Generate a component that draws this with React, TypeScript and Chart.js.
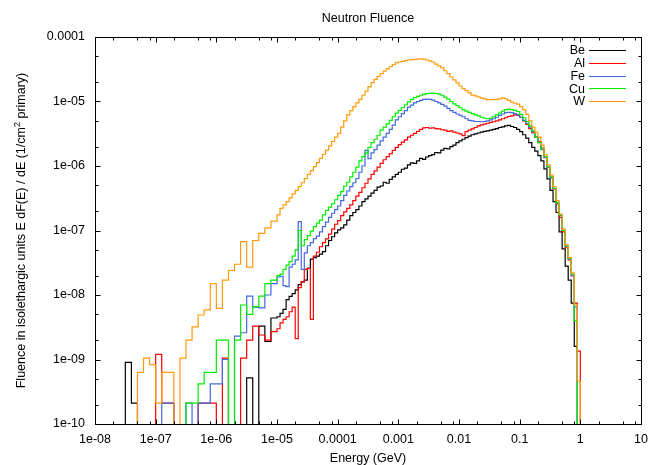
import React, { useEffect, useRef } from "react";
import { Chart, registerables } from "chart.js";

Chart.register(...registerables);

// ---------- data ----------
const SERIES_NAMES = ["Be", "Al", "Fe", "Cu", "W"];
const SERIES_COLORS = ["#000000", "#ff0000", "#4169e1", "#00ee00", "#ff9a0a"];

const TITLE = "Neutron Fluence";
const X_TITLE = "Energy (GeV)";
const Y_TITLE_PRE = "Fluence in isolethargic units E dF(E) / dE (1/cm";
const Y_TITLE_SUP = "2";
const Y_TITLE_POST = " primary)";

const X_TICKS = [1e-8, 1e-7, 1e-6, 1e-5, 1e-4, 1e-3, 1e-2, 1e-1, 1, 10];
const X_TICK_LABELS = ["1e-08", "1e-07", "1e-06", "1e-05", "0.0001", "0.001", "0.01", "0.1", "1", "10"];
const Y_TICKS = [1e-10, 1e-9, 1e-8, 1e-7, 1e-6, 1e-5, 1e-4];
const Y_TICK_LABELS = ["1e-10", "1e-09", "1e-08", "1e-07", "1e-06", "1e-05", "0.0001"];
const X_MINOR = [2, 5, 8];
const Y_MINOR = [2, 5];

// Energy bins (GeV): 10 per decade from 1e-8 to 1e-5, 20 per decade from 1e-5 to 1
const LOW_DECADES = [-8, -5];
const LOW_PER_DECADE = 10;
const HIGH_DECADES = [-5, 0];
const HIGH_PER_DECADE = 20;

// values per bin, 1e-8 .. 1e-5 (30 bins)
const BE_LOW = [0, 0, 0, 0, 0, 9e-10, 2.1e-10, 0, 0, 0, 0, 0, 0, 0, 0, 0, 0, 0, 0, 0, 0, 0, 0, 0, 0, 5.2e-10, 0, 3.3e-9, 1.9e-9, 4.4e-9];
const AL_LOW = [0, 0, 0, 0, 0, 0, 0, 0, 0, 0, 1.2e-9, 2.1e-10, 2.1e-10, 0, 0, 0, 0, 2.1e-10, 2.1e-10, 2.1e-10, 0, 1.05e-9, 0, 0, 1.05e-9, 2.0e-9, 3.3e-9, 2.4e-9, 2.0e-9, 2.7e-9];
const FE_LOW = [0, 0, 0, 0, 0, 0, 0, 0, 0, 0, 0, 2.1e-10, 2.1e-10, 0, 0, 2.1e-10, 0, 2.1e-10, 2.1e-10, 4.2e-10, 4.2e-10, 1.0e-9, 0, 2.3e-9, 2.6e-9, 9.6e-9, 6.5e-9, 6.3e-9, 1.0e-8, 1.5e-8];
const CU_LOW = [0, 0, 0, 0, 0, 0, 0, 0, 0, 0, 0, 0, 0, 0, 0, 2.1e-10, 2.1e-10, 4.2e-10, 6.3e-10, 6.3e-10, 2.0e-9, 2.0e-9, 0, 2.0e-9, 7.0e-9, 5.0e-9, 6.6e-9, 9.6e-9, 1.5e-8, 1.7e-8];
const W_LOW = [0, 0, 0, 0, 0, 0, 0, 6.3e-10, 1.05e-9, 8.3e-10, 2.1e-10, 6.3e-10, 6.3e-10, 0, 1.05e-9, 2.0e-9, 3.2e-9, 4.9e-9, 5.9e-9, 1.5e-8, 6.2e-9, 1.7e-8, 2.4e-8, 3.0e-8, 6.7e-8, 2.7e-8, 7.0e-8, 9.0e-8, 1.1e-7, 1.4e-7];

// values per bin, 1e-5 .. 1 (100 bins)
const BE_HIGH = [
  4.6e-9, 5.2e-9, 6.0e-9, 8.5e-9, 9.5e-9, 1.05e-8, 1.2e-8, 1.45e-8, 1.6e-8, 1.7e-8,
  2.6e-8, 3.6e-8, 3.8e-8, 4.0e-8, 4.3e-8, 4.7e-8, 5.8e-8, 7.0e-8, 8.0e-8, 9.2e-8,
  1.02e-7, 1.1e-7, 1.22e-7, 1.45e-7, 1.7e-7, 1.9e-7, 2.1e-7, 2.4e-7, 2.8e-7, 3.1e-7,
  3.4e-7, 3.8e-7, 4.2e-7, 4.7e-7, 4.9e-7, 5.6e-7, 5.4e-7, 6.2e-7, 6.8e-7, 7.4e-7,
  8.0e-7, 8.9e-7, 9.3e-7, 1.04e-6, 1.12e-6, 1.1e-6, 1.2e-6, 1.31e-6, 1.27e-6, 1.38e-6,
  1.45e-6, 1.5e-6, 1.62e-6, 1.6e-6, 1.76e-6, 1.88e-6, 1.84e-6, 2.0e-6, 2.1e-6, 2.3e-6,
  2.45e-6, 2.6e-6, 2.75e-6, 2.9e-6, 3.05e-6, 3.15e-6, 3.25e-6, 3.35e-6, 3.45e-6, 3.5e-6,
  3.6e-6, 3.7e-6, 3.8e-6, 3.95e-6, 4.05e-6, 4.2e-6, 4.25e-6, 4.1e-6, 3.95e-6, 3.7e-6,
  3.4e-6, 3.05e-6, 2.7e-6, 2.3e-6, 1.95e-6, 1.7e-6, 1.45e-6, 1.2e-6, 9.0e-7, 6.3e-7,
  4.2e-7, 2.8e-7, 1.9e-7, 9.5e-8, 5.2e-8, 2.8e-8, 1.7e-8, 7.5e-9, 1.6e-9, 0,
];
const AL_HIGH = [
  3.0e-9, 3.7e-9, 4.2e-9, 4.6e-9, 5.5e-9, 6.5e-9, 2.1e-9, 1.3e-8, 1.6e-8, 2.5e-8,
  2.6e-8, 4.2e-9, 4.0e-8, 4.6e-8, 5.6e-8, 6.5e-8, 7.4e-8, 8.8e-8, 1.05e-7, 1.25e-7,
  1.42e-7, 1.7e-7, 1.95e-7, 2.2e-7, 2.5e-7, 2.9e-7, 3.4e-7, 3.9e-7, 4.6e-7, 5.4e-7,
  6.3e-7, 7.4e-7, 8.4e-7, 9.6e-7, 1.1e-6, 1.25e-6, 1.4e-6, 1.55e-6, 1.75e-6, 1.95e-6,
  2.15e-6, 2.35e-6, 2.55e-6, 2.8e-6, 3.0e-6, 3.2e-6, 3.45e-6, 3.7e-6, 3.9e-6, 3.95e-6,
  3.85e-6, 3.9e-6, 3.8e-6, 3.75e-6, 3.65e-6, 3.6e-6, 3.45e-6, 3.5e-6, 3.35e-6, 3.25e-6,
  3.15e-6, 2.95e-6, 3.4e-6, 3.6e-6, 3.75e-6, 3.95e-6, 4.2e-6, 4.35e-6, 4.45e-6, 4.6e-6,
  4.75e-6, 4.85e-6, 5.0e-6, 5.2e-6, 5.4e-6, 5.6e-6, 5.85e-6, 6.0e-6, 6.2e-6, 6.1e-6,
  5.7e-6, 5.0e-6, 4.4e-6, 3.8e-6, 3.3e-6, 2.8e-6, 2.4e-6, 1.9e-6, 1.4e-6, 9.8e-7,
  6.7e-7, 4.4e-7, 2.6e-7, 1.6e-7, 9.5e-8, 5.4e-8, 3.5e-8, 2.0e-8, 7.5e-9, 1.35e-9,
];
const FE_HIGH = [
  1.9e-8, 1.95e-8, 1.4e-8, 1.35e-8, 2.7e-8, 3.0e-8, 3.5e-8, 1.37e-7, 2.5e-8, 4.5e-8,
  5.8e-8, 6.5e-8, 7.5e-8, 8.2e-8, 9.5e-8, 1.15e-7, 1.35e-7, 1.6e-7, 1.85e-7, 2.1e-7,
  2.4e-7, 2.9e-7, 3.5e-7, 4.1e-7, 4.8e-7, 5.5e-7, 6.4e-7, 8.0e-7, 1.0e-6, 1.75e-6,
  1.3e-6, 1.6e-6, 1.8e-6, 2.1e-6, 2.45e-6, 2.8e-6, 3.2e-6, 3.7e-6, 4.3e-6, 5.2e-6,
  5.8e-6, 6.5e-6, 7.2e-6, 8.2e-6, 8.8e-6, 9.5e-6, 1.0e-5, 1.04e-5, 1.08e-5, 1.09e-5,
  1.08e-5, 1.05e-5, 1.0e-5, 9.5e-6, 9.0e-6, 8.5e-6, 7.8e-6, 7.2e-6, 6.8e-6, 6.4e-6,
  6.1e-6, 5.8e-6, 5.4e-6, 5.1e-6, 5.0e-6, 4.9e-6, 4.9e-6, 4.85e-6, 4.9e-6, 5.0e-6,
  5.2e-6, 5.4e-6, 5.7e-6, 6.1e-6, 6.4e-6, 6.7e-6, 6.8e-6, 6.7e-6, 6.5e-6, 6.2e-6,
  5.7e-6, 5.1e-6, 4.6e-6, 4.0e-6, 3.4e-6, 2.8e-6, 2.3e-6, 1.8e-6, 1.35e-6, 9.5e-7,
  6.5e-7, 4.4e-7, 2.6e-7, 1.7e-7, 1.0e-7, 5.7e-8, 3.6e-8, 2.0e-8, 6.5e-9, 0,
];
const CU_HIGH = [
  2.0e-8, 2.1e-8, 2.5e-8, 2.9e-8, 3.3e-8, 4.0e-8, 5.0e-8, 1.0e-7, 5.8e-8, 7.2e-8,
  8.3e-8, 9.8e-8, 1.15e-7, 1.3e-7, 1.45e-7, 1.75e-7, 2.05e-7, 2.3e-7, 2.6e-7, 3.0e-7,
  3.5e-7, 4.0e-7, 4.9e-7, 5.6e-7, 6.8e-7, 8.0e-7, 9.6e-7, 1.2e-6, 1.4e-6, 1.6e-6,
  1.95e-6, 2.3e-6, 2.6e-6, 3.0e-6, 3.6e-6, 4.0e-6, 4.5e-6, 5.1e-6, 5.8e-6, 6.6e-6,
  7.3e-6, 8.0e-6, 8.9e-6, 9.9e-6, 1.08e-5, 1.15e-5, 1.2e-5, 1.25e-5, 1.29e-5, 1.32e-5,
  1.34e-5, 1.35e-5, 1.33e-5, 1.3e-5, 1.25e-5, 1.17e-5, 1.09e-5, 1.0e-5, 9.2e-6, 8.6e-6,
  8.0e-6, 7.5e-6, 7.1e-6, 6.8e-6, 6.5e-6, 6.2e-6, 6.0e-6, 5.7e-6, 5.5e-6, 5.4e-6,
  5.5e-6, 5.8e-6, 6.2e-6, 6.6e-6, 7.1e-6, 7.5e-6, 7.6e-6, 7.5e-6, 7.3e-6, 7.0e-6,
  6.3e-6, 5.6e-6, 4.9e-6, 4.2e-6, 3.5e-6, 2.8e-6, 2.3e-6, 1.85e-6, 1.4e-6, 9.8e-7,
  6.8e-7, 4.5e-7, 2.7e-7, 1.75e-7, 1.0e-7, 5.8e-8, 3.7e-8, 2.1e-8, 4.0e-9, 0,
];
const W_HIGH = [
  1.75e-7, 2.2e-7, 2.5e-7, 2.8e-7, 3.2e-7, 3.7e-7, 4.2e-7, 4.8e-7, 5.5e-7, 6.4e-7,
  7.4e-7, 8.5e-7, 9.8e-7, 1.13e-6, 1.31e-6, 1.52e-6, 1.76e-6, 2.05e-6, 2.4e-6, 2.8e-6,
  3.2e-6, 4.0e-6, 5.0e-6, 6.2e-6, 7.2e-6, 8.3e-6, 9.5e-6, 1.08e-5, 1.25e-5, 1.45e-5,
  1.69e-5, 1.96e-5, 2.2e-5, 2.44e-5, 2.7e-5, 2.96e-5, 3.2e-5, 3.46e-5, 3.73e-5, 4.0e-5,
  4.1e-5, 4.2e-5, 4.3e-5, 4.4e-5, 4.45e-5, 4.5e-5, 4.55e-5, 4.6e-5, 4.5e-5, 4.4e-5,
  4.25e-5, 4.1e-5, 3.8e-5, 3.56e-5, 3.34e-5, 3.0e-5, 2.7e-5, 2.4e-5, 2.16e-5, 1.94e-5,
  1.74e-5, 1.58e-5, 1.47e-5, 1.36e-5, 1.26e-5, 1.22e-5, 1.18e-5, 1.13e-5, 1.1e-5, 1.07e-5,
  1.07e-5, 1.07e-5, 1.08e-5, 1.1e-5, 1.14e-5, 1.1e-5, 1.04e-5, 9.8e-6, 9.4e-6, 9.1e-6,
  8.3e-6, 7.4e-6, 6.3e-6, 5.0e-6, 4.0e-6, 3.35e-6, 2.8e-6, 2.1e-6, 1.5e-6, 1.05e-6,
  7.2e-7, 4.8e-7, 2.9e-7, 1.8e-7, 1.05e-7, 6.0e-8, 3.8e-8, 2.2e-8, 7.0e-9, 4.6e-10,
];

const SERIES_LOW = [BE_LOW, AL_LOW, FE_LOW, CU_LOW, W_LOW];
const SERIES_HIGH = [BE_HIGH, AL_HIGH, FE_HIGH, CU_HIGH, W_HIGH];

// ---------- helpers ----------
const FONT = "'Liberation Sans', Arial, Helvetica, sans-serif";
const FONT_SIZE = 12.5;
const FLOOR = 1e-12; // empty bins are drawn below the axis (clipped)

function binEdges(): number[] {
  const edges: number[] = [];
  const nLow = (LOW_DECADES[1] - LOW_DECADES[0]) * LOW_PER_DECADE;
  for (let i = 0; i <= nLow; i++) edges.push(Math.pow(10, LOW_DECADES[0] + i / LOW_PER_DECADE));
  const nHigh = (HIGH_DECADES[1] - HIGH_DECADES[0]) * HIGH_PER_DECADE;
  for (let j = 1; j <= nHigh; j++) edges.push(Math.pow(10, HIGH_DECADES[0] + j / HIGH_PER_DECADE));
  return edges;
}

// each point sits on the left edge of its bin; the last point closes the final bin
function histPoints(values: number[], edges: number[]) {
  const pts = values.map((v, i) => ({ x: edges[i], y: v > 0 ? v : FLOOR }));
  pts.push({ x: edges[values.length], y: FLOOR });
  return pts;
}

const decorPlugin = {
  id: "decor",
  afterDraw(chart: any) {
    const { ctx, chartArea: a } = chart;
    const xs = chart.scales.x;
    const ys = chart.scales.y;
    const L = Math.round(a.left) + 0.5;
    const R = Math.round(a.right) + 0.5;
    const T = Math.round(a.top) + 0.5;
    const B = Math.round(a.bottom) + 0.5;
    ctx.save();
    ctx.strokeStyle = "#000";
    ctx.lineWidth = 1;
    ctx.beginPath();
    X_TICKS.forEach((d, idx) => {
      const mults = idx < X_TICKS.length - 1 ? [1, ...X_MINOR] : [1];
      mults.forEach((m) => {
        const px = Math.round(xs.getPixelForValue(d * m)) + 0.5;
        const len = m === 1 ? 5 : 3;
        ctx.moveTo(px, B);
        ctx.lineTo(px, B - len);
        ctx.moveTo(px, T);
        ctx.lineTo(px, T + len);
      });
    });
    Y_TICKS.forEach((d, idx) => {
      const mults = idx < Y_TICKS.length - 1 ? [1, ...Y_MINOR] : [1];
      mults.forEach((m) => {
        const py = Math.round(ys.getPixelForValue(d * m)) + 0.5;
        const len = m === 1 ? 5 : 3;
        ctx.moveTo(L, py);
        ctx.lineTo(L + len, py);
        ctx.moveTo(R, py);
        ctx.lineTo(R - len, py);
      });
    });
    ctx.stroke();
    ctx.strokeRect(L, T, R - L, B - T);

    ctx.fillStyle = "#000";
    ctx.font = `${FONT_SIZE}px ${FONT}`;
    ctx.textBaseline = "alphabetic";
    ctx.textAlign = "center";
    const cx = (a.left + a.right) / 2;
    ctx.fillText(TITLE, cx, 22);
    ctx.fillText(X_TITLE, cx, 461.5);

    // y title, rotated, with superscript
    ctx.save();
    ctx.translate(24.5, (a.top + a.bottom) / 2);
    ctx.rotate(-Math.PI / 2);
    ctx.textAlign = "left";
    ctx.font = `${FONT_SIZE}px ${FONT}`;
    const w1 = ctx.measureText(Y_TITLE_PRE).width;
    const w3 = ctx.measureText(Y_TITLE_POST).width;
    ctx.font = `9px ${FONT}`;
    const w2 = ctx.measureText(Y_TITLE_SUP).width;
    let x0 = -(w1 + w2 + w3) / 2;
    ctx.font = `${FONT_SIZE}px ${FONT}`;
    ctx.fillText(Y_TITLE_PRE, x0, 0);
    x0 += w1;
    ctx.font = `9px ${FONT}`;
    ctx.fillText(Y_TITLE_SUP, x0, -5);
    x0 += w2;
    ctx.font = `${FONT_SIZE}px ${FONT}`;
    ctx.fillText(Y_TITLE_POST, x0, 0);
    ctx.restore();

    // legend
    ctx.font = `${FONT_SIZE}px ${FONT}`;
    ctx.textAlign = "right";
    SERIES_NAMES.forEach((name, i) => {
      const yc = 50 + i * 12.75;
      ctx.fillStyle = "#000";
      ctx.fillText(name, 585, yc + 4.4);
      ctx.strokeStyle = SERIES_COLORS[i];
      ctx.lineWidth = 1.2;
      ctx.beginPath();
      ctx.moveTo(589, Math.round(yc) + 0.5);
      ctx.lineTo(626, Math.round(yc) + 0.5);
      ctx.stroke();
    });
    ctx.restore();
  },
};

export default function App() {
  const canvasRef = useRef<HTMLCanvasElement | null>(null);

  useEffect(() => {
    const canvas = canvasRef.current;
    if (!canvas) return;
    const edges = binEdges();
    const datasets = SERIES_NAMES.map((name, i) => ({
      label: name,
      data: histPoints([...SERIES_LOW[i], ...SERIES_HIGH[i]], edges),
      borderColor: SERIES_COLORS[i],
      backgroundColor: SERIES_COLORS[i],
      borderWidth: 1.2,
      pointRadius: 0,
      fill: false,
      stepped: "before" as const,
      order: SERIES_NAMES.length - 1 - i,
    }));

    const chart = new Chart(canvas, {
      type: "line",
      data: { datasets },
      options: {
        responsive: false,
        animation: false,
        devicePixelRatio: 1,
        layout: { padding: { top: 37, right: 10, left: 0, bottom: 0 } },
        plugins: { legend: { display: false }, tooltip: { enabled: false }, title: { display: false } },
        scales: {
          x: {
            type: "logarithmic",
            min: 1e-8,
            max: 10,
            grid: { display: false, drawTicks: false },
            border: { display: false },
            afterBuildTicks: (scale: any) => {
              scale.ticks = X_TICKS.map((v) => ({ value: v }));
            },
            afterFit: (scale: any) => {
              scale.height = 41;
              scale.paddingLeft = 0;
              scale.paddingRight = 0;
            },
            ticks: {
              autoSkip: false,
              maxRotation: 0,
              padding: 8,
              color: "#000",
              font: { family: FONT, size: FONT_SIZE },
              callback: (_v: any, idx: number) => X_TICK_LABELS[idx],
            },
          },
          y: {
            type: "logarithmic",
            min: 1e-10,
            max: 1e-4,
            grid: { display: false, drawTicks: false },
            border: { display: false },
            afterBuildTicks: (scale: any) => {
              scale.ticks = Y_TICKS.map((v) => ({ value: v }));
            },
            afterFit: (scale: any) => {
              scale.width = 95;
              scale.paddingTop = 0;
              scale.paddingBottom = 0;
            },
            ticks: {
              autoSkip: false,
              padding: 10,
              color: "#000",
              font: { family: FONT, size: FONT_SIZE },
              callback: (_v: any, idx: number) => Y_TICK_LABELS[idx],
            },
          },
        },
      },
      plugins: [decorPlugin],
    });
    return () => chart.destroy();
  }, []);

  return (
    <div style={{ position: "absolute", left: 0, top: 0, width: 651, height: 465, background: "#fff" }}>
      <canvas ref={canvasRef} width={651} height={465} style={{ display: "block" }} />
    </div>
  );
}
